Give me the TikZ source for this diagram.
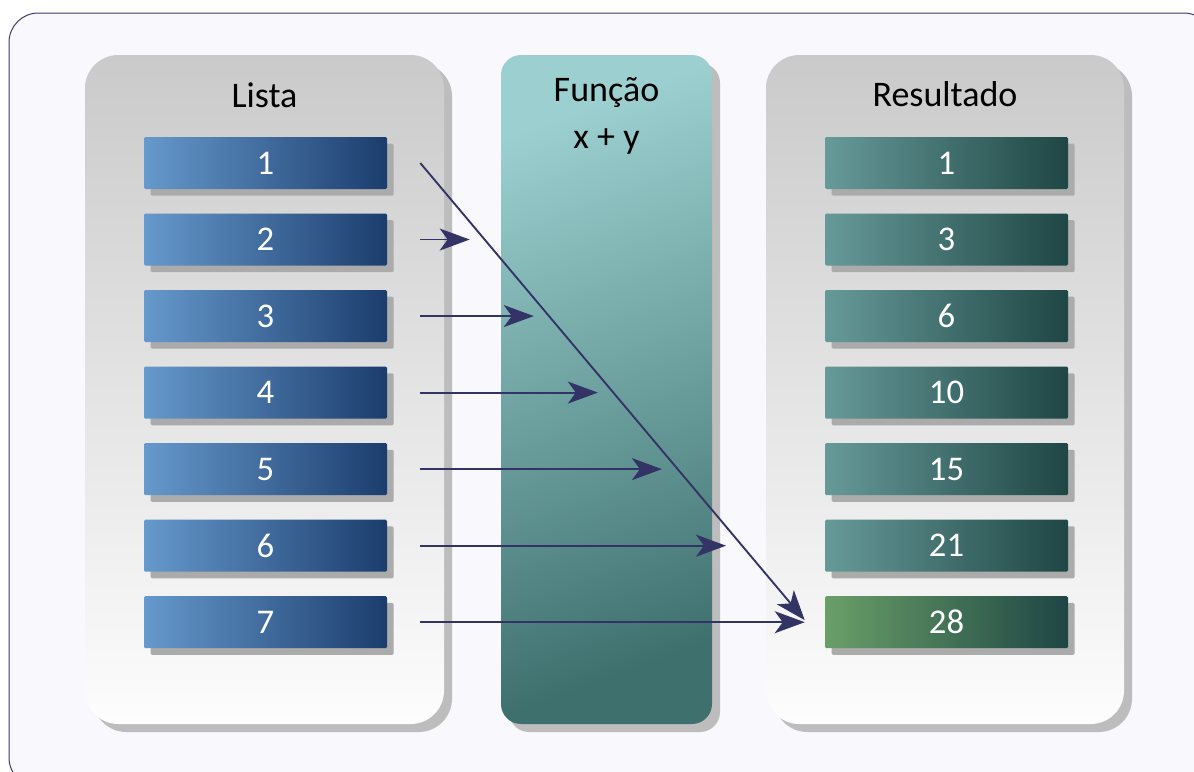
\documentclass[tikz,border=0pt]{standalone}
\usepackage{fontspec}
\setmainfont{Carlito}
\usetikzlibrary{positioning, arrows.meta, shadows, calc}

\definecolor{frameFill}{HTML}{F8F8FD}
\definecolor{frameLine}{HTML}{3C3C6E}
\definecolor{panelTop}{HTML}{CACACA}
\definecolor{panelBot}{HTML}{FDFDFD}
\definecolor{tealTop}{HTML}{9CD0D0}
\definecolor{tealBot}{HTML}{3E716E}
\definecolor{blueL}{HTML}{6699CC}
\definecolor{blueD}{HTML}{1B3D6D}
\definecolor{resL}{HTML}{669A99}
\definecolor{resD}{HTML}{1E4644}
\definecolor{greenL}{HTML}{6A9F68}
\definecolor{arrowCol}{HTML}{333366}
\definecolor{panelShadow}{HTML}{BDBDBD}
\definecolor{boxShadow}{HTML}{ABABAB}

\begin{document}
\begin{tikzpicture}[
    x=0.75pt, y=-0.75pt,
    frame/.style={draw=frameLine, line width=0.75pt, fill=frameFill, rounded corners=22pt},
    panel/.style={rectangle, rounded corners=25pt, top color=panelTop, bottom color=panelBot, minimum height=501.75pt,
        drop shadow={shadow xshift=6pt, shadow yshift=-6pt, fill=panelShadow, opacity=1}},
    funcpanel/.style={rectangle, rounded corners=15pt, top color=tealTop, bottom color=tealBot, shading angle=20,
        minimum width=158.25pt, minimum height=501.75pt,
        drop shadow={shadow xshift=6pt, shadow yshift=-6pt, fill=panelShadow, opacity=1}},
    title/.style={anchor=base, text=black, font=\fontsize{27}{32}\selectfont},
    item/.style={rectangle, rounded corners=1pt, minimum width=182.25pt, minimum height=39pt, text=white,
        font=\fontsize{26}{30}\selectfont,
        drop shadow={shadow xshift=5pt, shadow yshift=-5pt, fill=boxShadow, opacity=1}},
    inbox/.style={item, left color=blueL, right color=blueD},
    outbox/.style={item, left color=resL, right color=resD},
    lastbox/.style={item, left color=greenL, right color=resD},
    conn/.style={draw=arrowCol, line width=1.4pt, -{Stealth[length=22.5pt, width=16.5pt, inset=6pt]}}
]
\useasboundingbox (0,0) rectangle (1194,771);
\clip (0,0) rectangle (1194,771);

% Frame
\draw[frame] (9,13) rectangle (1213,787);

% Panels
\node[panel, minimum width=269.25pt] (lista) at (264.5,389.5) {};
\node[funcpanel] (funcao) at (606.5,389.5) {};
\node[panel, minimum width=268.5pt] (resultado) at (945,389.5) {};

% Titles
\node[title] (listaT) at (264.5,107) {Lista};
\node[title] (funcaoT) at (606.5,101) {Função};
\node[title] (exprT) at (606.5,148) {x + y};
\node[title] (resultadoT) at (945,106) {Resultado};

% Input list
\node[inbox] (l1) at (265.5,163) {1};
\node[inbox, below=18pt of l1] (l2) {2};
\node[inbox, below=18pt of l2] (l3) {3};
\node[inbox, below=18pt of l3] (l4) {4};
\node[inbox, below=18pt of l4] (l5) {5};
\node[inbox, below=18pt of l5] (l6) {6};
\node[inbox, below=18pt of l6] (l7) {7};

% Results
\node[outbox] (r1) at (946.5,163) {1};
\node[outbox, below=18pt of r1] (r2) {3};
\node[outbox, below=18pt of r2] (r3) {6};
\node[outbox, below=18pt of r3] (r4) {10};
\node[outbox, below=18pt of r4] (r5) {15};
\node[outbox, below=18pt of r5] (r6) {21};
\node[lastbox, below=18pt of r6] (r7) {28};

% Accumulating arrow
\coordinate (dstart) at ([xshift=24.75pt]l1.east);
\coordinate (dend) at ([xshift=-15pt, yshift=1.5pt]r7.west);
\draw[conn] (dstart) -- (dend);

% Arrows into the function
\foreach \i in {2,...,6}
{
    \coordinate (t\i) at ($(dstart)!{(\i-1)/6}!(dend)$);
    \coordinate (h\i) at ($(t\i |- l\i.east)+(-11pt,0)$);
    \draw[conn] ([xshift=24.75pt]l\i.east) -- (h\i);
}
\draw[conn] ([xshift=24.75pt]l7.east) -- ([xshift=-15pt]r7.west);

\end{tikzpicture}
\end{document}
